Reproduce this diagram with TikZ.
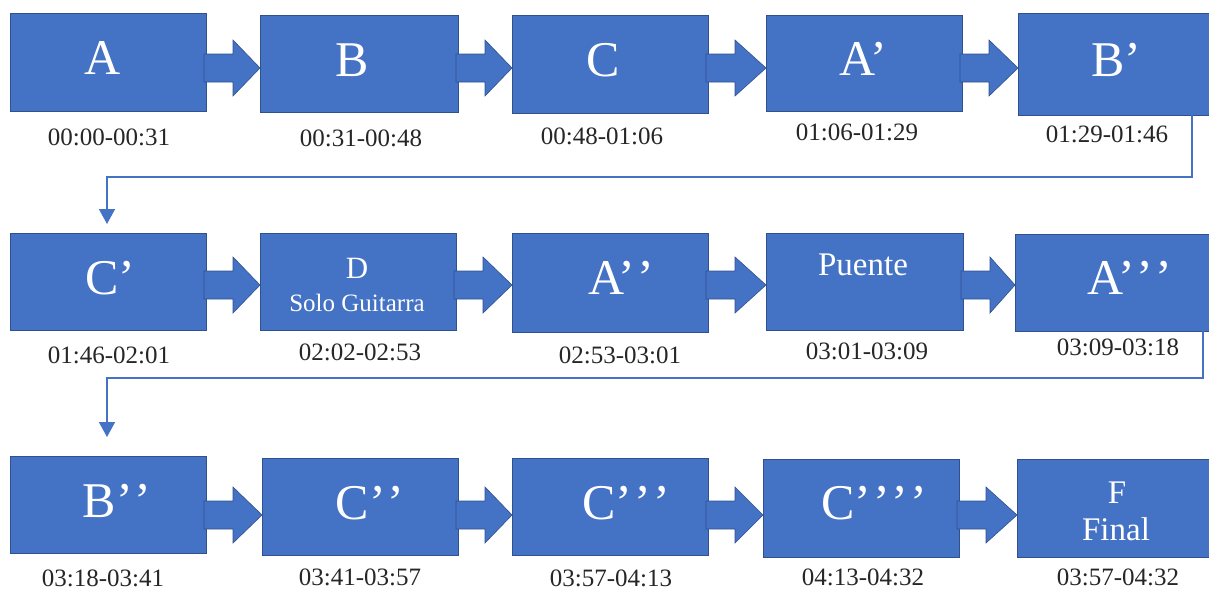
\documentclass[tikz,border=0pt]{standalone}
\usepackage{fontspec}
\setmainfont{Liberation Serif}
\usetikzlibrary{calc,arrows.meta}

\definecolor{boxblue}{HTML}{4472C4}
\definecolor{boxedge}{HTML}{2F528F}

% spaced closing quotes used as primes
\newcommand\qq{’\kern2pt’}
\newcommand\qqq{’\kern2pt’\kern2pt’}
\newcommand\qqqq{’\kern2pt’\kern2pt’\kern2pt’}

% block arrow between two sections, centred on the row coordinate #3
\newcommand\blockarrow[3]{%
  \fill[flow] ($(#1.east |- #3)+(-2,-14)$) -- ($(#1.east |- #3)+(27,-14)$)
    -- ($(#1.east |- #3)+(27,-28)$) -- (#2.west |- #3)
    -- ($(#1.east |- #3)+(27,28)$) -- ($(#1.east |- #3)+(27,14)$)
    -- ($(#1.east |- #3)+(-2,14)$) -- cycle;}

\begin{document}
\begin{tikzpicture}[x=1pt,y=-1pt,
  section/.style={draw=boxedge,line width=0.8pt,fill=boxblue,inner sep=0pt,outer sep=0pt},
  flow/.style={fill=boxblue,draw=boxedge,line width=0.6pt},
  big/.style={text=white,font=\fontsize{50}{60}\selectfont,inner sep=0pt,anchor=base},
  mid/.style={text=white,font=\fontsize{33}{40}\selectfont,inner sep=0pt,anchor=base},
  small/.style={text=white,font=\fontsize{25}{30}\selectfont,inner sep=0pt,anchor=base},
  time/.style={text=black!85,font=\fontsize{25}{30}\selectfont,inner sep=0pt,anchor=base},
  link/.style={draw=boxblue,line width=1.5pt,-{Triangle[width=16pt,length=15pt]}}]

\useasboundingbox (0,0) rectangle (1209,590);

% row coordinates for the block arrows
\coordinate (r1) at (0,68);
\coordinate (r2) at (0,285);
\coordinate (r3) at (0,515);

% ---- row 1 ----
\node[section,minimum width=196pt,minimum height=98pt]  (A)   at (108,62)    {};
\node[section,minimum width=198pt,minimum height=97pt]  (B)   at (359,63.5)  {};
\node[section,minimum width=196pt,minimum height=98pt]  (C)   at (610,64)    {};
\node[section,minimum width=196pt,minimum height=96pt]  (Ap)  at (864,63)    {};
\node[section,minimum width=196pt,minimum height=102pt] (Bp)  at (1116,64)   {};

% ---- row 2 ----
\node[section,minimum width=196pt,minimum height=97pt]  (Cp)  at (108,281.5)  {};
\node[section,minimum width=196pt,minimum height=97pt]  (D)   at (358,281.5)  {};
\node[section,minimum width=196pt,minimum height=99pt]  (App) at (610,282.5)  {};
\node[section,minimum width=197pt,minimum height=97pt]  (Pu)  at (864.5,281.5) {};
\node[section,minimum width=197pt,minimum height=97pt]  (Appp) at (1113.5,282.5) {};

% ---- row 3 ----
\node[section,minimum width=196pt,minimum height=97pt]  (Bpp)  at (108,504.5) {};
\node[section,minimum width=196pt,minimum height=97pt]  (Cpp)  at (360,506.5) {};
\node[section,minimum width=196pt,minimum height=97pt]  (Cppp) at (610,506.5) {};
\node[section,minimum width=196pt,minimum height=98pt]  (Cpppp) at (861,508) {};
\node[section,minimum width=197pt,minimum height=98pt]  (F)    at (1115.5,508) {};

% block arrows
\blockarrow{A}{B}{r1}
\blockarrow{B}{C}{r1}
\blockarrow{C}{Ap}{r1}
\blockarrow{Ap}{Bp}{r1}
\blockarrow{Cp}{D}{r2}
\blockarrow{D}{App}{r2}
\blockarrow{App}{Pu}{r2}
\blockarrow{Pu}{Appp}{r2}
\blockarrow{Bpp}{Cpp}{r3}
\blockarrow{Cpp}{Cppp}{r3}
\blockarrow{Cppp}{Cpppp}{r3}
\blockarrow{Cpppp}{F}{r3}

% section names
\node[big] (tA)    at (103,74)   {A};
\node[big] (tB)    at (352,76)   {B};
\node[big] (tC)    at (603,76)   {C};
\node[big] (tAp)   at (863,75)   {A’};
\node[big] (tBp)   at (1116,76)  {B’};
\node[big] (tCp)   at (110,294)  {C’};
\node[mid,font=\fontsize{31}{37}\selectfont] (tD) at (357,278) {D};
\node[small] (tSolo) at (357,311) {Solo Guitarra};
\node[big] (tApp)  at (621,294)  {A\qq};
\node[mid] (tPu)   at (863,275)  {Puente};
\node[big] (tAppp) at (1130,294) {A\qqq};
\node[big] (tBpp)  at (117,517)  {B\qq};
\node[big] (tCpp)  at (370,519)  {C\qq};
\node[big] (tCppp) at (626,519)  {C\qqq};
\node[big] (tCpppp) at (874,519) {C\qqqq};
\node[mid] (tF)     at (1117,503) {F};
\node[mid] (tFinal) at (1116,540) {Final};

% time ranges
\node[time] (hA)    at (109,145)  {00:00-00:31};
\node[time] (hB)    at (361,146)  {00:31-00:48};
\node[time] (hC)    at (602,144)  {00:48-01:06};
\node[time] (hAp)   at (857,140)  {01:06-01:29};
\node[time] (hBp)   at (1107,142) {01:29-01:46};
\node[time] (hCp)   at (109,363)  {01:46-02:01};
\node[time] (hD)    at (360,360)  {02:02-02:53};
\node[time] (hApp)  at (620,363)  {02:53-03:01};
\node[time] (hPu)   at (867,359)  {03:01-03:09};
\node[time] (hAppp) at (1118,355) {03:09-03:18};
\node[time] (hBpp)  at (103,586)  {03:18-03:41};
\node[time] (hCpp)  at (360,585)  {03:41-03:57};
\node[time] (hCppp) at (611,586)  {03:57-04:13};
\node[time] (hCpppp) at (863,585) {04:13-04:32};
\node[time] (hF)    at (1118,585) {03:57-04:32};

% line breaks between rows
\coordinate (j1) at (1192,177);
\coordinate (e1) at (107,0);
\coordinate (j2) at (1203,378);
\draw[link,shorten >=9pt]  (Bp.south -| j1) -- (j1) -| (Cp.north -| e1);
\draw[link,shorten >=19pt] (Appp.south -| j2) -- (j2) -| (Bpp.north -| e1);

\end{tikzpicture}
\end{document}
